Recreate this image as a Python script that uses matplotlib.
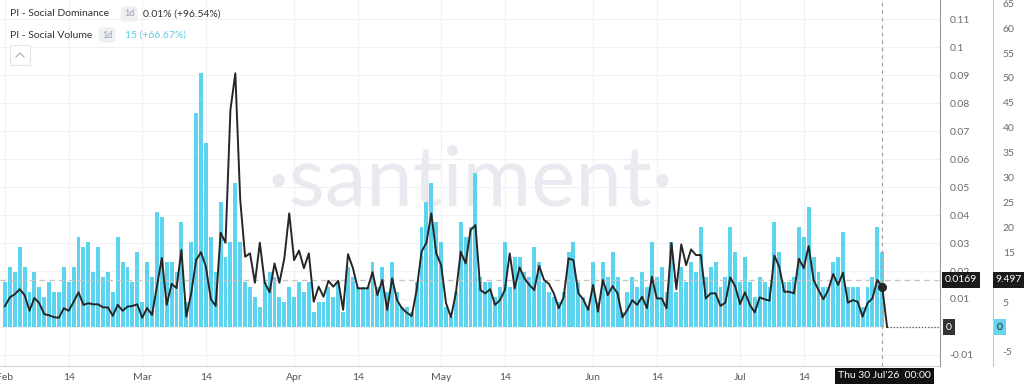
import numpy as np
import pandas as pd
import matplotlib
matplotlib.use('Agg')
import matplotlib.pyplot as plt
import matplotlib.dates as mdates
import matplotlib.transforms as mtransforms
from matplotlib.patches import FancyBboxPatch
from matplotlib.lines import Line2D

plt.rcParams['font.family'] = ['Lato', 'DejaVu Sans']

# Daily data, 1 Feb 2026 .. 31 Jul 2026
dates = pd.date_range('2026-02-01', periods=181, freq='D')

social_volume = [
    9, 12, 11, 16, 12, 7, 11, 8, 6, 9, 7, 7, 12, 9, 12, 18, 16, 17, 11, 16,
    10, 11, 7, 18, 13, 12, 9, 15, 5, 13, 10, 23, 22, 13, 13, 11, 21, 5, 17, 43,
    51, 37, 18, 11, 25, 14,
    17, 29, 17, 9, 8, 6, 4, 9, 11, 10, 6, 5, 8, 6, 9, 7, 9, 3, 5, 5,
    8, 6, 9, 3, 12, 10, 8, 8, 8, 13, 8, 12, 7, 13, 7, 4, 4, 3, 9, 20,
    25, 29, 21, 17,
    4, 2, 7, 21, 18, 20, 31, 10, 9, 9, 6, 8, 17, 8, 14, 14, 11, 10, 16, 13,
    9, 7, 6, 5, 7, 15, 17, 9, 6, 4, 13, 5, 13, 10, 15, 10, 3, 7, 10, 8,
    11, 8, 17, 10, 12,
    7, 17, 7, 12, 9, 13, 11, 20, 10, 12, 13, 8, 10, 20, 15, 9, 14, 9, 6, 10,
    9, 8, 21, 15, 9, 9, 10, 20, 18, 24, 14, 11, 8, 8, 13, 14, 19, 8, 8, 8,
    4, 8, 10, 20, 15,
    0,
]

social_dominance = [
    0.0075, 0.0106, 0.0117, 0.0135, 0.0114, 0.0058, 0.0104, 0.0085, 0.0046, 0.0042,
    0.0035, 0.0033, 0.0067, 0.0058, 0.0090, 0.0124, 0.0079, 0.0085, 0.0081, 0.0081,
    0.0070, 0.0070, 0.0040, 0.0079, 0.0058, 0.0073, 0.0075, 0.0081, 0.0033, 0.0068,
    0.0043, 0.0144, 0.0246, 0.0079, 0.0154, 0.0139, 0.0275, 0.0037, 0.0120, 0.0239,
    0.0267, 0.0215, 0.0100, 0.0075, 0.0337, 0.0301,
    0.0775, 0.0906, 0.0454, 0.0251, 0.0263, 0.0158, 0.0301, 0.0158, 0.0124, 0.0227,
    0.0158, 0.0245, 0.0406, 0.0239, 0.0273, 0.0210, 0.0263, 0.0090, 0.0144, 0.0108,
    0.0165, 0.0144, 0.0165, 0.0061, 0.0260, 0.0210, 0.0138, 0.0138, 0.0138, 0.0196,
    0.0114, 0.0168, 0.0061, 0.0174, 0.0096, 0.0067, 0.0051, 0.0039, 0.0132, 0.0269,
    0.0301, 0.0406, 0.0263, 0.0221,
    0.0085, 0.0035, 0.0120, 0.0269, 0.0227, 0.0346, 0.0364, 0.0132, 0.0120, 0.0135,
    0.0079, 0.0096, 0.0132, 0.0263, 0.0138, 0.0213, 0.0174, 0.0150, 0.0132, 0.0218,
    0.0168, 0.0154, 0.0120, 0.0067, 0.0106, 0.0245, 0.0239, 0.0120, 0.0099, 0.0061,
    0.0150, 0.0055, 0.0168, 0.0114, 0.0146, 0.0120, 0.0035, 0.0061, 0.0096, 0.0079,
    0.0108, 0.0067, 0.0180, 0.0102, 0.0102,
    0.0067, 0.0300, 0.0135, 0.0295, 0.0221, 0.0277, 0.0257, 0.0257, 0.0102, 0.0120,
    0.0120, 0.0075, 0.0087, 0.0177, 0.0146, 0.0082, 0.0124, 0.0079, 0.0052, 0.0106,
    0.0099, 0.0094, 0.0255, 0.0215, 0.0126, 0.0126, 0.0120, 0.0244, 0.0210, 0.0289,
    0.0168, 0.0132, 0.0099, 0.0132, 0.0189, 0.0150, 0.0194, 0.0087, 0.0096, 0.0090,
    0.0037, 0.0085, 0.0102, 0.0168, 0.0144,
    0.0,
]

dom_ticks = [-0.01, 0.01, 0.02, 0.03, 0.04, 0.05, 0.06, 0.07, 0.08, 0.09, 0.1, 0.11]
# 0 and 10 sit under the value boxes
vol_ticks = [-5, 5, 15, 20, 25, 30, 35, 40, 45, 50, 55, 60, 65]
x_tick_dates = pd.to_datetime(['2026-02-01', '2026-02-14', '2026-03-01', '2026-03-14',
                               '2026-04-01', '2026-04-14', '2026-05-01', '2026-05-14',
                               '2026-06-01', '2026-06-14', '2026-07-01', '2026-07-14'])
x_tick_labels = ['Feb', '14', 'Mar', '14', 'Apr', '14', 'May', '14', 'Jun', '14', 'Jul', '14']

hover_idx = 179          # Thu 30 Jul
crosshair_dom = 0.0169

# colours
bar_color = '#5dd4ef'
line_color = '#262626'
cyan_text = '#5ccde9'

W, H = 1024, 387
fig = plt.figure(figsize=(W / 100, H / 100), dpi=100)
ax_vol = fig.add_axes([0, 21 / H, 940 / W, 366 / H])
ax_dom = ax_vol.twinx()
ax_dom.set_zorder(ax_vol.get_zorder() + 1)
ax_dom.patch.set_visible(False)

def fx(x):
    return x / W

def fy(y):
    return 1 - y / H

# limits
x0 = mdates.date2num(dates[0])
ax_vol.set_xlim(x0 - 1.02, x0 + 190.8)
ax_dom.set_ylim(-0.01393, 0.11679)
ax_vol.set_ylim(-7.83, 65.66)

# grid (dominance based, drawn behind the bars)
blend = mtransforms.blended_transform_factory(ax_vol.transAxes, ax_dom.transData)
for t in dom_ticks + [0]:
    ax_vol.plot([0, 1], [t, t], transform=blend, color='#f1f1f3', lw=0.8, zorder=0.5)
ax_vol.set_xticks(x_tick_dates)
ax_vol.set_xticklabels(x_tick_labels)
ax_vol.grid(axis='x', color='#f1f1f3', lw=0.8)
ax_vol.set_axisbelow(True)

# watermark
ax_vol.text(0.5, 0.5, '·santiment·', transform=ax_vol.transAxes, ha='center', va='center',
            fontsize=60, color='#e9eaf0', zorder=1)

# series
ax_vol.bar(dates, social_volume, width=0.8, color=bar_color, linewidth=0, zorder=2)
ax_dom.plot(dates, social_dominance, color=line_color, lw=1.4, zorder=3)
ax_dom.plot(dates[hover_idx], social_dominance[hover_idx], 'o', color=line_color, ms=5.5, zorder=4)

# crosshair
ax_dom.axvline(dates[hover_idx], color='#a5a5a5', lw=0.9, ls=(0, (3, 3)), zorder=2)
ax_dom.axhline(crosshair_dom, color='#c6c6c6', lw=1.0, ls=(0, (4, 3)), zorder=2)
ax_dom.plot([mdates.date2num(dates[-1]), x0 + 190.8], [0, 0], ls=(0, (1, 1.5)),
            color='#555555', lw=0.9, zorder=2)

# axes styling
for s in ['top', 'left']:
    ax_vol.spines[s].set_visible(False)
ax_vol.spines['bottom'].set_color('#d4d4d4')
ax_vol.spines['right'].set_color('#8adcf0')
ax_vol.spines['right'].set_position(('axes', 993 / 940))
ax_vol.yaxis.tick_right()
ax_vol.set_yticks(vol_ticks)
ax_vol.set_yticklabels([str(v) for v in vol_ticks])
ax_vol.tick_params(axis='y', length=0, pad=7, labelsize=7.5, labelcolor='#6b6b6b')
ax_vol.tick_params(axis='x', length=0, pad=5, labelsize=7.5, labelcolor='#555555')

for s in ['top', 'left', 'bottom']:
    ax_dom.spines[s].set_visible(False)
ax_dom.spines['right'].set_color('#9a9a9a')
ax_dom.set_yticks(dom_ticks)
ax_dom.set_yticklabels([f'{t:g}' for t in dom_ticks])
ax_dom.tick_params(axis='y', length=0, pad=7, labelsize=7.5, labelcolor='#6b6b6b')
ax_dom.xaxis.set_visible(False)

# value boxes on the axes
def box(x, y, s, fc, tc='white', ha='left'):
    fig.text(fx(x), fy(y), s, ha=ha, va='center', fontsize=7.5, color=tc,
             bbox=dict(boxstyle='square,pad=0.3', fc=fc, ec='none'))

box(945, 280, '0.0169', '#1b1b1b')
box(996, 280, '9.497', '#1b1b1b')
box(946, 327, '0', '#333333')
box(997, 327, '0', '#66d4ee', tc='#222222')
box(884, 376, "Thu 30 Jul'26  00:00", '#111111', ha='center')

# legend rows
fig.text(fx(10), fy(14), 'PI - Social Dominance', fontsize=7.5, color='#333333', va='center')
fig.text(fx(124), fy(14), '1d', fontsize=6.5, color='#9aa0aa', va='center',
         bbox=dict(boxstyle='round,pad=0.35', fc='#eef0f4', ec='none'))
fig.text(fx(143), fy(14), '0.01% (+96.54%)', fontsize=7.5, color='#333333', va='center')
fig.text(fx(10), fy(35), 'PI - Social Volume', fontsize=7.5, color='#333333', va='center')
fig.text(fx(102), fy(35), '1d', fontsize=6.5, color='#9aa0aa', va='center',
         bbox=dict(boxstyle='round,pad=0.35', fc='#eef0f4', ec='none'))
fig.text(fx(125), fy(35), '15 (+66.67%)', fontsize=7.5, color=cyan_text, va='center')

# collapse button
fig.add_artist(FancyBboxPatch((fx(10), fy(65)), 20 / W, 20 / H, boxstyle='square,pad=0',
                              transform=fig.transFigure, fc='white', ec='#e4e4e4', lw=0.8))
fig.add_artist(Line2D([fx(16), fx(20), fx(24)], [fy(57), fy(53), fy(57)],
                      transform=fig.transFigure, color='#a8a8a8', lw=0.8))

fig.savefig('out.png', dpi=100)
